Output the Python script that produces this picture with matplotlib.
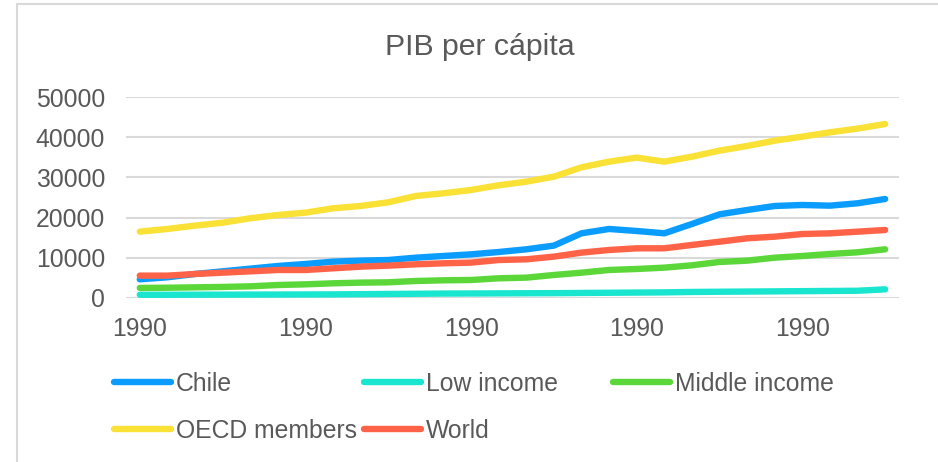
import numpy as np
import matplotlib.pyplot as plt
from matplotlib.lines import Line2D

plt.rcParams['font.family'] = ['Liberation Sans', 'DejaVu Sans']

# PIB per capita, 1990-2017
years = list(range(1990, 2018))
chile = [4650, 5150, 5970, 6630, 7300, 7960, 8460, 9040, 9290, 9450,
         10030, 10450, 10860, 11440, 12110, 13030, 16090, 17170, 16670, 16090,
         18410, 20820, 21890, 22890, 23140, 22970, 23560, 24630]
low_income = [800, 800, 820, 830, 850, 860, 880, 900, 950, 1000,
              1050, 1100, 1120, 1150, 1180, 1200, 1250, 1300, 1350, 1400,
              1500, 1550, 1600, 1650, 1700, 1750, 1800, 2150]
middle_income = [2500, 2550, 2650, 2750, 2900, 3230, 3400, 3650, 3820, 3900,
                 4230, 4400, 4480, 4900, 5060, 5720, 6300, 6970, 7220, 7550,
                 8130, 8960, 9290, 10030, 10450, 10950, 11370, 12110]
oecd = [16500, 17170, 18000, 18730, 19830, 20650, 21230, 22310, 22890, 23800,
        25380, 26050, 26870, 28040, 28940, 30180, 32510, 33920, 34920, 33920,
        35160, 36660, 37820, 39140, 40140, 41220, 42130, 43290]
world = [5560, 5560, 5970, 6300, 6630, 6970, 6970, 7380, 7800, 8050,
         8380, 8630, 8800, 9450, 9620, 10290, 11290, 11940, 12360, 12360,
         13190, 14010, 14850, 15260, 15920, 16090, 16500, 16920]
x_labels = ['1990', '1990', '1990', '1990', '1990']
y_ticks = [0, 10000, 20000, 30000, 40000, 50000]

series = [
    ('Chile', chile, '#0A9CFF'),
    ('Low income', low_income, '#1AE6D0'),
    ('Middle income', middle_income, '#5BD73A'),
    ('OECD members', oecd, '#F9E136'),
    ('World', world, '#FF6347'),
]

txt = '#595959'
grid = '#d9d9d9'
fs = 17.8

fig = plt.figure(figsize=(9.38, 4.62), dpi=100)
ax = fig.add_axes([0.1343, 0.355, 0.8241, 0.435])

x = np.arange(len(years))
handles = {}
for name, vals, col in series:
    ln, = ax.plot(x, vals, color=col, lw=4.6, solid_capstyle='round',
                  solid_joinstyle='round', label=name, zorder=3)
    handles[name] = ln

ax.set_xlim(-0.5, len(years) - 0.5)
ax.set_ylim(0, 50000)
ax.set_yticks(y_ticks)
ax.set_yticklabels([str(v) for v in y_ticks])
ax.set_xticks(x[::6])
ax.set_xticklabels(x_labels)
ax.tick_params(axis='both', length=0, labelsize=fs, colors=txt)
ax.tick_params(axis='y', pad=15)
ax.tick_params(axis='x', pad=14)
ax.grid(axis='y', color=grid, lw=1.5, zorder=0)
for s in ax.spines.values():
    s.set_visible(False)

fig.text(480 / 938, 1 - 55 / 462, 'PIB per cápita', ha='center',
         va='baseline', fontsize=21.8, color=txt)

# legend: three fixed-width columns like the original
cols = [(114, ['Chile', 'OECD members']),
        (364, ['Low income', 'World']),
        (613, ['Middle income'])]
for xpx, names in cols:
    fig.legend([handles[n] for n in names], names,
               loc='upper left', bbox_to_anchor=(xpx / 938, 1 - 372 / 462),
               frameon=False, fontsize=fs, labelcolor=txt,
               handlelength=2.3, handletextpad=0.2, borderpad=0,
               borderaxespad=0, labelspacing=0.92)

# chart border (top and left visible in the crop)
fig.add_artist(Line2D([17 / 938, 17 / 938], [0, 1 - 4 / 462],
                      color=grid, lw=1.5))
fig.add_artist(Line2D([17 / 938, 1], [1 - 4 / 462, 1 - 4 / 462],
                      color=grid, lw=1.5))

fig.savefig('out.png', dpi=100)
